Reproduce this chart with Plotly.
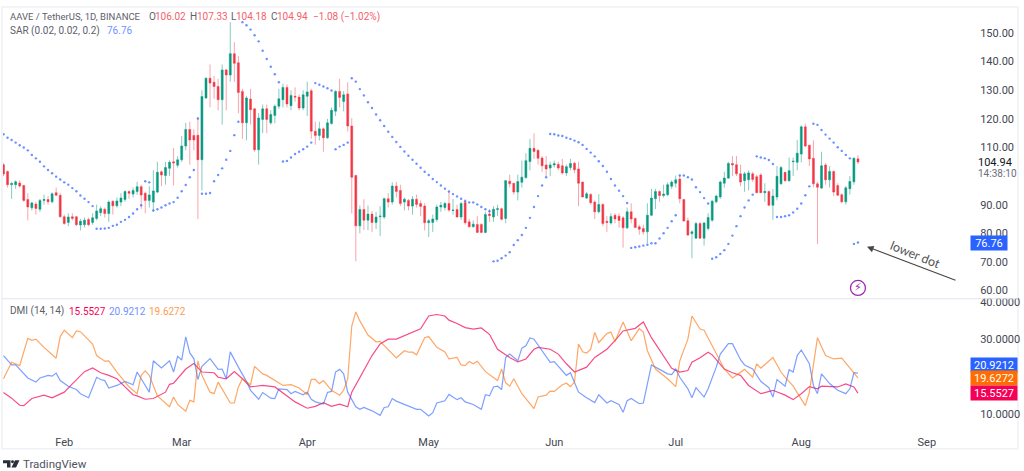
#!/usr/bin/env python3
# -*- coding: utf-8 -*-
"""
AAVE / TetherUS 日线图：K线、SAR 与 DMI 指标可视化
"""

import pandas as pd
import plotly.graph_objects as go
from plotly.subplots import make_subplots

# K线数据
opens = [
    104, 101.6, 97, 97, 97.6, 96.7, 91.8, 88.9, 90.2, 88.4,
    91.5, 91.8, 91, 94.2, 93.3, 85.8, 83.8, 85.8, 85.8, 82.9,
    83, 84.8, 83.8, 85.2, 87.2, 88.4, 86.9, 91.2, 89.6, 90.9,
    91.8, 94.6, 93.7, 94.6, 96.3, 94, 91.5, 90.9, 94.4, 101.5,
    100.2, 102.7, 105, 103.8, 105.7, 110.5, 116.3, 114.2, 114.3, 105.7,
    127.3, 134.2, 132.8, 131.3, 126.7, 137.1, 135.3, 142.8, 139.6, 129.6,
    118.6, 126.9, 123.5, 109.2, 119.8, 123.5, 118.6, 121.2, 124.4, 126.7,
    131, 124.6, 127.9, 127.6, 123.8, 127.9, 129.8, 115.7, 114.2, 116.5,
    113.4, 118.4, 122.7, 129.6, 126.1, 128.7, 117.5, 100.2, 82.6, 88.3,
    84.6, 86.7, 83.8, 85.8, 85.7, 92.1, 90.9, 96.5, 95, 90.9,
    91.5, 89.5, 91.9, 90.4, 89.5, 83.7, 83.8, 84.8, 89.2, 89,
    90.4, 88, 88.3, 85.7, 90.7, 84, 82.3, 83.1, 83.1, 80.3,
    86.7, 85.7, 88.3, 88.6, 85.2, 98.2, 97.5, 94.4, 97.8, 99.5,
    105.1, 109.7, 109, 106.3, 103.9, 102.8, 103.9, 104.1, 103.6, 101.1,
    103, 104.5, 102.5, 97.9, 92.3, 93.6, 90.9, 87.5, 90.1, 84.2,
    83.6, 86.3, 86, 85.4, 81.9, 87.5, 85.2, 82.3, 81.7, 80.5,
    86.3, 92.1, 94.6, 93.2, 93.5, 96.4, 97.5, 99, 91.8, 84.4,
    79.9, 78.3, 83.4, 78.3, 81.7, 84.6, 91, 92.7, 97.5, 99.3,
    104.4, 104, 100.8, 98.4, 98.7, 100.8, 99.8, 100.4, 94.2, 94.6,
    89.8, 92.7, 97.3, 101.3, 98.4, 105, 104.8, 107.7, 117.2, 110.8,
    106.2, 97.3, 95.8, 103.9, 98.7, 101.6, 96.7, 93.5, 91, 95.6,
    98, 106.02,
]
highs = [
    104.5, 102, 98, 98.5, 98.5, 97, 94, 91, 91, 92,
    93.5, 93, 94.3, 96, 94, 86.5, 87, 87, 86, 85,
    85.5, 85.5, 87, 90, 89.5, 89, 91.5, 91.5, 92.5, 94,
    95, 95, 96, 98, 97, 94.5, 96.5, 102, 105, 102,
    105, 105.5, 109.8, 107, 114, 118.6, 119, 116.3, 120.5, 130,
    134.5, 139, 135, 134, 139, 137.5, 153.8, 146.8, 142, 130.5,
    128, 130.5, 123.8, 122, 125, 125, 123, 125, 130.5, 132.3,
    132, 130, 131, 128.5, 130, 133, 130.5, 119, 119, 117,
    120, 124, 130, 134, 129.7, 132.8, 120.2, 100.5, 89.7, 91.9,
    89.7, 87.8, 87.5, 89.5, 92.5, 94, 97.8, 98, 97, 92.5,
    92, 93, 93.5, 91.5, 90.5, 85, 86.5, 90, 91, 91,
    94.5, 92, 90, 91, 92, 85, 84.5, 86, 83.5, 87.5,
    88.5, 89.5, 90, 89, 98.6, 100.5, 97.5, 100.5, 105.4, 108,
    113, 114.9, 109.5, 107, 107, 105, 105.4, 105, 106, 104,
    106, 105, 105, 98, 94.5, 94, 91.5, 93.7, 90.5, 86,
    87, 87, 87, 86, 89, 90.5, 85.5, 83, 83, 90.5,
    95.5, 95.5, 95, 97, 97.8, 98.5, 100.2, 100.3, 92, 85.5,
    81, 84, 84, 84, 87, 91.7, 93.5, 98.5, 101.5, 105,
    107, 107, 104, 101.5, 102, 101.5, 100.5, 101, 97.5, 95,
    95.5, 103.5, 103.5, 101.5, 106.5, 106.5, 112.6, 117.7, 118.3, 111,
    112.5, 98, 108.5, 104.5, 103.5, 102, 97.5, 94, 96.5, 100,
    106.5, 107.33,
]
lows = [
    100, 96, 92, 95.5, 96, 91, 84.5, 88, 86.5, 87.5,
    90, 90, 90.5, 93, 85.5, 83, 82.5, 84.5, 82.5, 81,
    82, 82.5, 83, 84.5, 86, 85.5, 84, 86.5, 89, 89.5,
    91, 92, 92.5, 93.5, 88.5, 87, 89, 87.5, 94, 96.5,
    97, 100, 96.8, 103, 105, 109, 104, 109, 85, 95,
    127, 124, 127, 123, 118, 123, 133, 133, 122, 113,
    112.5, 118, 108.5, 104, 115, 115, 118, 118.5, 123.5, 124,
    124, 123, 126, 123, 123, 121, 113, 111, 112.5, 108.5,
    113, 118, 121, 124, 122.6, 115.6, 86.9, 70.2, 80, 81.1,
    81.1, 80.5, 81.5, 79, 85, 89, 90, 92.5, 89.5, 88,
    88, 86.5, 89, 86, 81, 78.7, 80.5, 84, 87.5, 88,
    87.5, 86.5, 85.5, 84.7, 83, 82, 82, 80.2, 80, 80,
    84, 84, 86, 84.5, 83.5, 96, 93.5, 91.5, 96, 99,
    102, 106, 104, 101.5, 100, 100, 103, 102, 100.5, 100,
    102, 101, 89.5, 92.5, 92, 90, 85, 87, 82.5, 80.5,
    83, 83.5, 82, 75, 81.5, 83.5, 82, 79.5, 79.5, 76.5,
    86, 88.5, 91, 92.5, 93, 95.5, 96, 90.5, 84, 79,
    71.3, 78, 78, 75.7, 81, 84, 90.5, 92, 96, 99,
    100, 100, 96.5, 94.5, 95, 98, 94, 94, 91, 89.5,
    84.7, 91.5, 97, 98, 98, 100, 102, 104.8, 110, 103.5,
    96, 76.2, 95.5, 97, 96, 93, 93, 90.5, 90, 93.5,
    97, 104.18,
]
closes = [
    100.7, 97, 97.4, 98, 96.5, 91.5, 89.2, 90.6, 88.7, 91.5,
    91.8, 91, 93.8, 93.3, 85.8, 83.4, 85.7, 85.2, 83, 84.2,
    84.6, 83, 85.4, 87.8, 88.6, 86.9, 90.9, 89.6, 91.3, 92.3,
    94.6, 94, 95, 96.3, 93.4, 91.5, 93.4, 94.8, 101.3, 100.4,
    103, 104.8, 104.6, 105.7, 110.5, 116.3, 112.6, 112.6, 105.7, 127.8,
    134.2, 132.5, 131.3, 126.7, 137.1, 135.3, 142.8, 139.4, 129.2, 118.6,
    127.3, 123.2, 109.2, 120.3, 123.5, 119.8, 121.5, 124.4, 127, 131,
    125.2, 128.2, 127.6, 123.8, 128.4, 129.4, 115.7, 114.2, 116.5, 113.4,
    118.6, 123, 129.6, 127.5, 128.4, 117.5, 99.6, 82.6, 88.3, 84.6,
    86.7, 83.8, 85.7, 86, 92.1, 90.9, 96.5, 94.6, 90.4, 91.9,
    89.5, 91.9, 90.1, 89.4, 83.7, 84.4, 85, 89.2, 89.8, 90.4,
    88.1, 88.1, 85.7, 90.4, 83.7, 82.3, 83.2, 80.3, 80.3, 86.6,
    86.2, 88.4, 88.6, 84.9, 98.4, 97.3, 94.4, 98.1, 99.6, 105.4,
    109.7, 108.6, 106.2, 103.6, 102.5, 103.9, 104.3, 102.8, 101.1, 103.3,
    104.4, 102.2, 97.5, 92.7, 93.8, 90.7, 87.5, 90.1, 83.4, 83.8,
    85.9, 85, 84.5, 81.9, 87.5, 85, 82, 81.4, 80.5, 86.3,
    92.3, 94.6, 93.2, 93.7, 97, 97.9, 98.7, 92.1, 84.3, 79.4,
    80.5, 83.4, 78.3, 83.6, 85.5, 91.2, 93, 97.9, 99.3, 104.4,
    103.9, 100.8, 97.9, 100.8, 101.1, 98.8, 94.2, 94.2, 94.6, 89.8,
    93, 99.9, 103, 98.4, 101.9, 105.2, 108, 117.2, 110.5, 106,
    97.3, 96.1, 103.6, 98.7, 101.6, 94.4, 93.3, 91, 95.9, 98.1,
    106.2, 104.94,
]

# SAR 每日数值
sar = [
    114.6, 113.4, 112.6, 111.7, 110.8, 110, 109, 107.4, 106.2, 105,
    103.4, 102.1, 101, 99.8, 98.8, 97.8, 97, 95.8, 94.7, 93.2,
    92.1, 90.9, 89.5, 81.6, 81.6, 81.7, 81.9, 82.6, 83, 84,
    84.7, 85.7, 86.9, 88.4, 89.8, 98.2, 97.8, 88, 88.4, 89,
    89.8, 90.4, 90.9, 92.4, 94.7, 96.9, 99.6, 102.1, 120.1, 93.8,
    93.8, 94.1, 98.2, 100.4, 102.7, 105.7, 108.8, 114.3, 119, 153.8,
    152.7, 151.2, 149.2, 147.1, 143.8, 140.9, 138.2, 135.6, 132.8, 105.1,
    105.3, 106.5, 107.7, 108.5, 109.4, 110.3, 111.7, 132.5, 131.9, 131.3,
    130.7, 129.9, 109.4, 110.3, 110.9, 111.7, 134.2, 133, 130.4, 128.2,
    125.8, 123.8, 121.5, 119.5, 117.5, 115.5, 113.7, 111.9, 110.2, 108.6,
    107.1, 105.7, 104.3, 102.9, 101.5, 100.4, 99, 97.9, 96.7, 95.6,
    94.6, 93.7, 92.9, 92.1, 91.2, 90.8, 90.8, 90.1, 89.2, 88.4,
    87.7, 70.2, 70.4, 71.3, 72.2, 73.4, 75.9, 77.6, 79.4, 81.9,
    85.4, 89.2, 93, 96.7, 99.6, 114.7, 114.6, 114.2, 114, 113.4,
    113, 112.4, 111.8, 110.9, 109.5, 108.2, 106.9, 105.2, 103.5, 101.5,
    99, 96.7, 94.9, 93, 90.6, 74.9, 75.1, 75.4, 75.7, 76,
    76.5, 76.5, 78.2, 80, 81.9, 84.2, 86.3, 100.2, 100.2, 99.6,
    98.8, 96.1, 94.4, 92.3, 90.4, 71.1, 71.6, 72.8, 74.1, 76.3,
    79.2, 82.5, 86, 89, 91.5, 93.5, 106.9, 106.5, 106.2, 105.6,
    104.2, 85.7, 85.7, 86, 86.3, 87.3, 88.6, 90.4, 93.3, 96.4,
    118.3, 117.9, 116.1, 114.5, 113.1, 111.7, 110.1, 108.8, 107.4, 106.2,
    76.3, 76.76,
]

# DMI 三条线：折点的天序号与数值
adx_days = [
    0, 2, 4, 5, 7, 10, 12, 15, 17, 20, 22, 24, 26, 28, 30, 32, 33, 35, 37, 40,
    41, 42, 45, 47, 49, 52, 53, 55, 57, 59, 61, 64, 67, 70, 72, 75, 77, 79, 81, 83,
    85, 86, 89, 91, 93, 95, 97, 100, 103, 105, 107, 109, 110, 112, 114, 116, 118, 120, 122, 125,
    127, 129, 131, 132, 135, 137, 139, 141, 144, 146, 149, 151, 153, 156, 158, 160, 163, 165, 167, 169,
    170, 172, 174, 175, 178, 180, 182, 184, 187, 190, 193, 195, 197, 199, 201, 202, 206, 208, 210, 211,
]
adx_vals = [
    15.7, 14.2, 12.3, 12.2, 14.1, 15, 14.3, 15.8, 18, 21.3, 22.3, 21, 20.3, 19.4, 17.2, 15.1, 14.8, 13.9, 14.1, 15.8,
    17.9, 18.2, 22, 23.5, 21.2, 21, 19.8, 19.4, 21.3, 19.4, 17.2, 17.6, 17.2, 14.8, 13.2, 11.5, 12, 13, 12, 12.6,
    11.9, 15.8, 21.6, 25.6, 28.7, 30, 30, 31.3, 32.8, 36.2, 36.6, 36.2, 35.1, 34.2, 33.1, 32.7, 33, 31.3, 27.3, 25.1,
    23.9, 24.7, 27.3, 27.8, 27.3, 26, 23.4, 21.2, 22.5, 25.1, 27.3, 29.6, 32.2, 32.9, 34.6, 30.4, 25.6, 22.2, 21.2, 21.6,
    23.8, 25, 26.5, 25.8, 22, 21, 20.3, 17.6, 15.4, 16.3, 15, 13.8, 15.4, 17.3, 16.7, 17.4, 17.2, 18, 17.2, 15.55,
]
plus_days = [
    0, 2, 3, 6, 8, 9, 11, 12, 13, 14, 16, 18, 19, 21, 23, 24, 25, 26, 28, 30,
    32, 33, 35, 36, 37, 39, 41, 42, 43, 44, 45, 46, 47, 48, 49, 51, 53, 54, 55, 56,
    58, 60, 61, 63, 64, 66, 67, 68, 70, 71, 72, 74, 75, 76, 77, 79, 80, 81, 82, 83,
    84, 85, 87, 88, 89, 91, 93, 94, 95, 96, 97, 100, 102, 103, 105, 106, 107, 109, 110, 112,
    113, 114, 116, 118, 119, 120, 121, 122, 123, 124, 125, 127, 128, 129, 130, 131, 133, 135, 136, 139,
    140, 141, 142, 144, 146, 147, 149, 150, 152, 153, 154, 155, 157, 158, 160, 162, 164, 165, 166, 167,
    169, 170, 171, 173, 174, 176, 177, 179, 180, 182, 183, 185, 187, 189, 190, 191, 193, 194, 195, 196,
    197, 199, 200, 201, 202, 204, 206, 208, 209, 210, 211,
]
plus_vals = [
    25.6, 23.1, 23.1, 19.6, 18.5, 19.6, 20.3, 20.1, 20.9, 18.9, 17.4, 16.5, 15.4, 14.3, 19.8, 19.2, 18.9, 16.9, 17.6, 18.7,
    17.8, 21.2, 17.6, 15.8, 24.2, 22.3, 24.2, 21.2, 25.4, 24.4, 30.6, 26.3, 24.8, 19.2, 22.7, 24.8, 21.9, 22, 19.4, 26.6,
    22.5, 18.7, 16.3, 13.9, 15.7, 14.2, 14.1, 16.7, 16.5, 15.4, 16, 15.1, 15.8, 13.9, 13.2, 12.6, 15.7, 16, 21.2, 21.9,
    20.7, 15.8, 11.9, 11.2, 11.7, 10.8, 9.6, 11.7, 11.9, 14.1, 13.4, 12.1, 11.2, 11.2, 9.4, 10.3, 12.9, 13.5, 15.2, 13.8,
    14.3, 13.2, 12.5, 11.2, 15.1, 14.8, 17.2, 17.4, 16.5, 25.1, 26, 24.2, 27.6, 28.2, 30.3, 30, 26.9, 23.8, 24, 20.3,
    21, 18.3, 15.8, 14.3, 13, 15.1, 12.9, 13.5, 12.5, 10.4, 13.5, 14.1, 12.7, 12.9, 23.1, 21.9, 20.7, 20.5, 22, 19.8,
    16.7, 14.3, 17, 14.5, 16.7, 22.5, 26, 28.8, 28.8, 24.5, 23.1, 22, 18.7, 17, 14.5, 19.2, 17.4, 21.8, 21.2, 25.6,
    27.1, 23.4, 17.6, 15.4, 20.7, 18.1, 16.3, 15.4, 16.7, 21, 20.92,
]
minus_days = [
    0, 2, 4, 6, 7, 8, 10, 13, 14, 15, 17, 18, 19, 22, 23, 25, 26, 28, 31, 33,
    34, 35, 36, 38, 41, 42, 43, 45, 46, 47, 48, 49, 51, 52, 53, 56, 57, 58, 59, 61,
    62, 64, 65, 69, 71, 73, 75, 76, 77, 78, 79, 81, 83, 84, 85, 86, 87, 88, 90, 92,
    93, 95, 97, 99, 100, 101, 102, 104, 105, 107, 109, 110, 112, 113, 114, 115, 116, 117, 119, 122,
    123, 124, 125, 126, 128, 131, 132, 134, 135, 136, 138, 139, 140, 141, 142, 143, 144, 145, 146, 147,
    149, 150, 151, 153, 155, 157, 158, 159, 161, 164, 166, 167, 169, 170, 172, 173, 175, 178, 180, 183,
    185, 186, 187, 190, 192, 193, 195, 198, 199, 201, 203, 205, 207, 210, 211,
]
minus_vals = [
    19.4, 23.8, 22.9, 30.2, 29.7, 30, 27.8, 24.9, 30.7, 32.4, 30.4, 32.2, 32, 28.7, 25.6, 24.1, 24.2, 21.2, 17.2, 15.4,
    20.3, 21.5, 20.3, 14.8, 11.9, 14.5, 12.5, 10.7, 13.6, 13.2, 24.2, 20.3, 15.8, 15.4, 18.5, 12.9, 12.9, 17.2, 19.4, 17.8,
    22.7, 20.7, 20.3, 17.6, 17.8, 16.9, 15.2, 19.2, 19.2, 18.1, 18.9, 16.3, 15, 16.3, 19.4, 33.5, 37.3, 34.9, 31.1, 29.3,
    29.4, 27.3, 25, 26.9, 26.5, 26.5, 25.8, 30.4, 30.7, 27.8, 26.6, 24.7, 25.1, 23.1, 22.9, 24, 23.4, 24.1, 21.3, 18.9,
    22, 18.3, 17.4, 19.4, 15.4, 11.4, 14.5, 15, 16.1, 16, 17.8, 18.2, 17.3, 18.5, 28.7, 26.6, 26.3, 27.3, 31.8, 29.1,
    31.5, 31.9, 29.4, 34.6, 29.6, 32.8, 31.9, 26.9, 22, 19.4, 17.3, 24.2, 30, 36.2, 32.7, 32.4, 28.2, 22, 19.6, 21.9,
    19.8, 23.4, 22.2, 25.1, 21.2, 19.8, 17.4, 12.2, 15.8, 30.4, 25.6, 24.7, 24.9, 20.7, 19.63,
]

# 坐标轴刻度
month_ticks = ['2022-01-31', '2022-03-01', '2022-04-01', '2022-05-01', '2022-06-01', '2022-07-01', '2022-08-01', '2022-09-01']
month_labels = ['Feb', 'Mar', 'Apr', 'May', 'Jun', 'Jul', 'Aug', 'Sep']
price_ticks = [60, 70, 80, 90, 110, 120, 130, 140, 150]
dmi_ticks = [10, 30, 40]

GREEN = '#089981'
RED = '#F23645'
BLUE = '#2962FF'
ORANGE = '#FF6D00'
PINK = '#F50057'
GREY = '#5d606b'
PALE_BLUE = '#6f93ff'
PALE_ORANGE = '#ff9a50'
PALE_RED = '#f4616d'

def paper_x(px):
    """像素横坐标换算为 paper 坐标"""
    return (px - 3) / 967

def paper_y(py):
    """像素纵坐标换算为 paper 坐标"""
    return (428 - py) / 425

def create_chart():
    """创建 K 线与 DMI 两个面板"""

    dates = pd.date_range('2022-01-16', periods=len(opens))

    # 创建子图
    fig = make_subplots(
        rows=2, cols=1,
        shared_xaxes=True,
        row_heights=[294, 130],
        vertical_spacing=1 / 425
    )

    # 1. K线
    fig.add_trace(
        go.Candlestick(
            x=dates,
            open=opens,
            high=highs,
            low=lows,
            close=closes,
            whiskerwidth=0,
            increasing=dict(line=dict(color='rgba(8,153,129,0.5)', width=1), fillcolor=GREEN),
            decreasing=dict(line=dict(color='rgba(242,54,69,0.45)', width=1), fillcolor=RED)
        ),
        row=1, col=1
    )

    # 2. SAR 点
    fig.add_trace(
        go.Scatter(
            x=dates,
            y=sar,
            mode='markers',
            marker=dict(size=2.4, color=BLUE, opacity=0.7)
        ),
        row=1, col=1
    )

    # 闪电标记
    fig.add_trace(
        go.Scatter(
            x=[dates[-1]],
            y=[60.9],
            mode='markers+text',
            text=['⚡'],
            textposition='middle center',
            textfont=dict(size=11, color='#9C27B0', family='DejaVu Sans'),
            marker=dict(size=15, color='white', line=dict(color='#9C27B0', width=1.3))
        ),
        row=1, col=1
    )

    # 3. DMI 三条线
    fig.add_trace(
        go.Scatter(x=dates[adx_days], y=adx_vals, mode='lines', line=dict(color=PINK, width=1.2), opacity=0.7),
        row=2, col=1
    )
    fig.add_trace(
        go.Scatter(x=dates[plus_days], y=plus_vals, mode='lines', line=dict(color=BLUE, width=1.2), opacity=0.6),
        row=2, col=1
    )
    fig.add_trace(
        go.Scatter(x=dates[minus_days], y=minus_vals, mode='lines', line=dict(color=ORANGE, width=1.2), opacity=0.6),
        row=2, col=1
    )

    # 更新布局
    fig.update_layout(
        width=1024,
        height=471,
        margin=dict(l=3, r=54, t=3, b=43),
        showlegend=False,
        plot_bgcolor='white',
        paper_bgcolor='white',
        font=dict(family='Roboto', size=11, color='#131722')
    )

    # 更新坐标轴
    x_range = ['2022-01-15 21:00', '2022-09-11 16:00']
    fig.update_xaxes(range=x_range, showgrid=False, zeroline=False, rangeslider_visible=False, row=1, col=1)
    fig.update_xaxes(
        range=x_range, showgrid=False, zeroline=False,
        tickvals=month_ticks, ticktext=month_labels,
        ticks='outside', ticklen=4, tickcolor='white',
        tickfont=dict(size=11, color='#434651'),
        row=2, col=1
    )
    fig.update_yaxes(
        range=[57.3, 159.1], side='right', showgrid=False, zeroline=False,
        tickvals=price_ticks, tickformat='.2f',
        ticks='outside', ticklen=7, tickcolor='white',
        tickfont=dict(size=11, color='#434651'),
        row=1, col=1
    )
    fig.update_yaxes(
        range=[6.2, 40.7], side='right', showgrid=False, zeroline=False,
        tickvals=dmi_ticks, tickformat='.4f',
        ticks='outside', ticklen=7, tickcolor='white',
        tickfont=dict(size=11, color='#434651'),
        row=2, col=1
    )

    # 面板分隔线与外框
    fig.add_shape(type='rect', xref='paper', yref='paper',
                  x0=paper_x(2), x1=paper_x(1018), y0=paper_y(449), y1=paper_y(3),
                  line=dict(color='#f0f1f4', width=1.5), layer='below')
    fig.add_shape(type='line', xref='paper', yref='paper',
                  x0=paper_x(2), x1=paper_x(1018), y0=paper_y(297.5), y1=paper_y(297.5),
                  line=dict(color='#e4e4f2', width=1))

    # TradingView 标志
    logo_paths = [
        [(3, 460.5), (10.5, 460.5), (10.5, 468), (7, 468), (7, 463.5), (3, 463.5)],
        [(15, 460.5), (19.5, 460.5), (16, 468), (11.5, 468)],
    ]
    for points in logo_paths:
        path = 'M ' + ' L '.join(f'{paper_x(x):.5f},{paper_y(y):.5f}' for x, y in points) + ' Z'
        fig.add_shape(type='path', xref='paper', yref='paper', path=path,
                      fillcolor='#2a2e39', line=dict(width=0))
    fig.add_shape(type='circle', xref='paper', yref='paper',
                  x0=paper_x(11), x1=paper_x(14), y0=paper_y(463.5), y1=paper_y(460.5),
                  fillcolor='#2a2e39', line=dict(width=0))

    # 文字标注（文字、左端像素、中线像素、字号、颜色）
    left_notes = [
        ('AAVE / TetherUS, 1D, BINANCE', 9, 13, 9.5, GREY),
        ('O', 148, 13, 10, GREY), ('106.02', 154, 13, 10, PALE_RED),
        ('H', 189, 13, 10, GREY), ('107.33', 196, 13, 10, PALE_RED),
        ('L', 230, 13, 10, GREY), ('104.18', 235, 13, 10, PALE_RED),
        ('C', 270, 13, 10, GREY), ('104.94', 276, 13, 10, PALE_RED),
        ('−1.08 (−1.02%)', 312, 13, 10, PALE_RED),
        ('SAR (0.02, 0.02, 0.2)', 9, 27, 10, GREY), ('76.76', 106, 27, 10, PALE_BLUE),
        ('DMI (14, 14)', 9, 310, 10, GREY), ('15.5527', 68, 310, 10, PINK),
        ('20.9212', 108, 310, 10, PALE_BLUE), ('19.6272', 148, 310, 10, PALE_ORANGE),
    ]
    for text, px, py, size, color in left_notes:
        fig.add_annotation(text=text, xref='paper', yref='paper', x=paper_x(px), y=paper_y(py),
                           xanchor='left', yanchor='middle', showarrow=False, borderpad=0,
                           font=dict(size=size, color=color))

    fig.add_annotation(text='TradingView', xref='paper', yref='paper', x=paper_x(22), y=paper_y(464),
                       xanchor='left', yanchor='middle', showarrow=False, borderpad=0,
                       font=dict(size=11.5, color='#50535e'))

    # 最新价与倒计时
    fig.add_annotation(text='104.94', xref='paper', yref='paper', x=paper_x(977), y=paper_y(159.5),
                       xanchor='left', yanchor='middle', showarrow=False, borderpad=0,
                       font=dict(size=11, color='#131722'))
    fig.add_annotation(text='14:38:10', xref='paper', yref='paper', x=paper_x(977), y=paper_y(171),
                       xanchor='left', yanchor='middle', showarrow=False, borderpad=0,
                       font=dict(size=10, color='#6a6d78'))

    # 右侧数值标签
    value_tags = [
        ('76.76', 240.8, BLUE, 35),
        ('20.9212', 364, BLUE, 45),
        ('19.6272', 378, ORANGE, 45),
        ('15.5527', 392.7, PINK, 45),
    ]
    for text, py, color, width in value_tags:
        fig.add_annotation(text=text, xref='paper', yref='paper', x=paper_x(970), y=paper_y(py),
                           xanchor='left', yanchor='middle', showarrow=False, bgcolor=color,
                           width=width, height=13, align='center', borderpad=0.5,
                           font=dict(size=11, color='white'))

    # 手写箭头与说明
    fig.add_annotation(text='', xref='paper', yref='paper', x=paper_x(867), y=paper_y(245),
                       ax=90, ay=34, axref='pixel', ayref='pixel', showarrow=True,
                       arrowhead=2, arrowsize=1.2, arrowwidth=1.1, arrowcolor='#454545')
    fig.add_annotation(text='lower dot', xref='paper', yref='paper', x=paper_x(915), y=paper_y(253),
                       xanchor='center', yanchor='middle',
                       showarrow=False, textangle=22, font=dict(size=12.5, color='#555555', family='Lato'))

    return fig

if __name__ == "__main__":
    # 创建可视化
    fig = create_chart()

    # 保存图表（去掉页面默认边距和工具栏）
    fig.write_html("out.html", config={'displayModeBar': False},
                   post_script="document.body.style.margin='0';")
    print("可视化图表已保存到: out.html")
